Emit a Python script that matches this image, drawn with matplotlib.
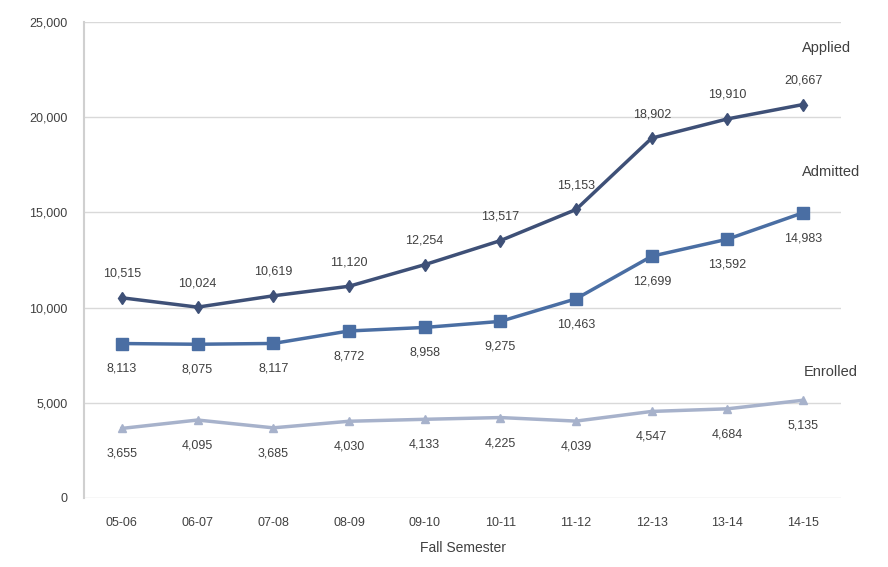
import matplotlib
matplotlib.use("Agg")
import matplotlib.pyplot as plt

plt.rcParams['font.family'] = ['Liberation Sans', 'DejaVu Sans']

# data
semesters = ['05-06', '06-07', '07-08', '08-09', '09-10', '10-11', '11-12', '12-13', '13-14', '14-15']
applied = [10515, 10024, 10619, 11120, 12254, 13517, 15153, 18902, 19910, 20667]
admitted = [8113, 8075, 8117, 8772, 8958, 9275, 10463, 12699, 13592, 14983]
enrolled = [3655, 4095, 3685, 4030, 4133, 4225, 4039, 4547, 4684, 5135]

fig = plt.figure(figsize=(8.88, 5.67), dpi=100)
ax = fig.add_axes([84 / 888, 1 - 498 / 567, (841 - 84) / 888, (498 - 22) / 567])

x = list(range(len(semesters)))

c_app = '#3e5077'
c_adm = '#4a6ea3'
c_enr = '#a7b2cb'

ax.plot(x, applied, color=c_app, lw=2.5, marker='d', ms=6, zorder=3)
ax.plot(x, admitted, color=c_adm, lw=2.5, marker='s', ms=8, zorder=3)
ax.plot(x, enrolled, color=c_enr, lw=2.5, marker='^', ms=6, zorder=3)

for i in x:
    ax.annotate(f'{applied[i]:,}', (i, applied[i]), xytext=(0, 13), textcoords='offset points',
                ha='center', va='bottom', fontsize=9, color='#404040')
    ax.annotate(f'{admitted[i]:,}', (i, admitted[i]), xytext=(0, -14), textcoords='offset points',
                ha='center', va='top', fontsize=9, color='#404040')
    ax.annotate(f'{enrolled[i]:,}', (i, enrolled[i]), xytext=(0, -14), textcoords='offset points',
                ha='center', va='top', fontsize=9, color='#404040')

# series names at the right end
ax.annotate('Applied', (x[-1], applied[-1]), xytext=(17, 36), textcoords='offset points',
            ha='center', va='bottom', fontsize=10.5, color='#404040')
ax.annotate('Admitted', (x[-1], admitted[-1]), xytext=(20, 24), textcoords='offset points',
            ha='center', va='bottom', fontsize=10.5, color='#404040')
ax.annotate('Enrolled', (x[-1], enrolled[-1]), xytext=(20, 15), textcoords='offset points',
            ha='center', va='bottom', fontsize=10.5, color='#404040')

ax.set_xlim(-0.5, len(semesters) - 0.5)
ax.set_ylim(0, 25000)
ax.set_yticks(range(0, 25001, 5000))
ax.set_yticklabels([f'{v:,}' for v in range(0, 25001, 5000)])
ax.set_xticks(x)
ax.set_xticklabels(semesters)
ax.tick_params(axis='both', length=0, labelsize=9, colors='#404040')
ax.tick_params(axis='y', pad=12)
ax.tick_params(axis='x', pad=14)

ax.grid(axis='y', color='#d9d9d9', lw=1)
ax.set_axisbelow(True)
for s in ['top', 'right', 'bottom']:
    ax.spines[s].set_visible(False)
ax.spines['left'].set_color('#d0d0d0')
ax.spines['left'].set_linewidth(1.5)

ax.set_xlabel('Fall Semester', fontsize=10, color='#404040', labelpad=8)

fig.savefig('out.png', dpi=100)
